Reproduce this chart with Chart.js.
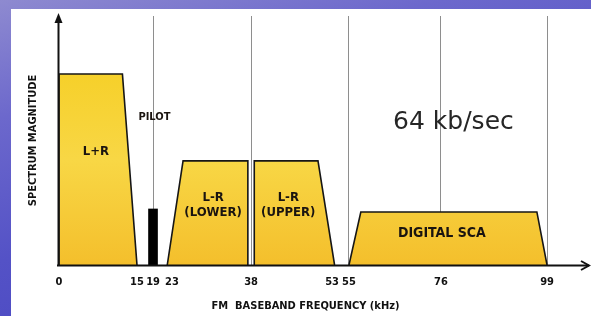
<!DOCTYPE html>
<html><head><meta charset="utf-8">
<script src="https://cdn.jsdelivr.net/npm/chart.js@4.4.1/dist/chart.umd.min.js"></script>
<style>
html,body{margin:0;padding:0;width:591px;height:316px;overflow:hidden;}
body{position:relative;background:linear-gradient(165deg,#8e8ad0 0%,#6c68cc 25%,#5452c6 55%,#4442c0 100%);}
#panel{position:absolute;left:11px;top:9px;right:0;bottom:0;background:#fff;}
#wrap{position:absolute;left:0;top:0;width:591px;height:316px;}
</style></head><body>
<div id="panel"></div>
<div id="wrap"><canvas id="c" width="591" height="316"></canvas></div>
<script>
// ---- data (kHz on x, relative spectrum magnitude on y) ----
const tickValues = [0, 15, 19, 23, 38, 53, 55, 76, 99];
const gridValues = [19, 38, 55, 76, 99];
const bandNames  = ['L+R', 'L-R (LOWER)', 'L-R (UPPER)', 'DIGITAL SCA'];
const lrX    = [0, 0, 12.2, 15];
const lrY    = [0, 76.7, 76.7, 0];
const lowerX = [22, 25.1, 37.4, 37.4];
const lowerY = [0, 41.8, 41.8, 0];
const upperX = [38.6, 38.6, 50.4, 53.3];
const upperY = [0, 41.8, 41.8, 0];
const scaX   = [55, 57.7, 96.8, 99];
const scaY   = [0, 21.3, 21.3, 0];
const pilotX = [19];
const pilotY = [22.5];

// axis of the original diagram is not drawn to scale: piecewise axis
const axisStops = [0, 15, 19, 23, 38, 53, 55, 76, 99, 100];
const axisFractions = [0, 0.1582, 0.1907, 0.2292, 0.3895, 0.5538, 0.5882, 0.7748, 0.9899, 1];

function interp(v, xs, ys) {
  if (v <= xs[0]) return ys[0] + (v - xs[0]) * (ys[1] - ys[0]) / (xs[1] - xs[0]);
  for (let i = 1; i < xs.length; i++) {
    if (v <= xs[i]) return ys[i-1] + (v - xs[i-1]) * (ys[i] - ys[i-1]) / (xs[i] - xs[i-1]);
  }
  const n = xs.length - 1;
  return ys[n] + (v - xs[n]) * (ys[n] - ys[n-1]) / (xs[n] - xs[n-1]);
}

class WarpScale extends Chart.LinearScale {
  getPixelForValue(value) {
    if (value === null || value === undefined) return NaN;
    const w = this.options.warp;
    return this.getPixelForDecimal(interp(value, w.stops, w.fractions));
  }
  getValueForPixel(pixel) {
    const w = this.options.warp;
    return interp(this.getDecimalForPixel(pixel), w.fractions, w.stops);
  }
}
WarpScale.id = 'warp';
WarpScale.defaults = Chart.LinearScale.defaults;
Chart.register(WarpScale);

const pts = (xs, ys) => xs.map((x, i) => ({x: x, y: ys[i]}));
const FONT = "'DejaVu Sans Condensed', 'DejaVu Sans', sans-serif";

function yellow(ctx) {
  const ca = ctx.chart.chartArea;
  if (!ca) return '#f7cf30';
  const g = ctx.chart.ctx.createLinearGradient(0, ca.top + 58, 0, ca.bottom);
  g.addColorStop(0, '#f6d02a');
  g.addColorStop(0.45, '#f8d745');
  g.addColorStop(1, '#f4bf2c');
  return g;
}

function band(label, xs, ys) {
  return {
    type: 'line', label: label, data: pts(xs, ys),
    fill: 'origin', backgroundColor: yellow,
    borderColor: '#161616', borderWidth: 1.6, borderJoinStyle: 'miter',
    pointRadius: 0, tension: 0
  };
}

const deco = {
  id: 'deco',
  afterDatasetsDraw(chart) {
    const c = chart.ctx, ca = chart.chartArea;
    const xs = chart.scales.x, ys = chart.scales.y;
    c.save();
    c.strokeStyle = '#111'; c.fillStyle = '#111'; c.lineWidth = 2;
    // x axis with arrow
    const ay = ca.bottom + 0.5;
    const xEnd = chart.width - 2;
    c.beginPath(); c.moveTo(ca.left - 2, ay); c.lineTo(xEnd, ay); c.stroke();
    c.beginPath(); c.moveTo(xEnd - 8, ay - 4.5); c.lineTo(xEnd, ay); c.lineTo(xEnd - 8, ay + 4.5); c.stroke();
    // y axis with arrow
    const ax = ca.left - 0.5;
    const yEnd = ca.top - 3;
    c.beginPath(); c.moveTo(ax, ca.bottom); c.lineTo(ax, yEnd + 6); c.stroke();
    c.beginPath(); c.moveTo(ax, yEnd); c.lineTo(ax - 4, yEnd + 10); c.lineTo(ax + 4, yEnd + 10); c.closePath(); c.fill();

    const txt = (s, xv, yv, font, align, base) => {
      c.font = font; c.textAlign = align || 'center'; c.textBaseline = base || 'middle';
      c.fillText(s, xs.getPixelForValue(xv), ys.getPixelForValue(yv));
    };
    c.fillStyle = '#1a1410';
    const b13 = "bold 13px " + FONT;
    txt('L+R', 7.1, 45.4, b13);
    txt('L-R', 30.8, 26.9, b13);
    txt('(LOWER)', 30.8, 20.9, b13);
    txt('L-R', 44.9, 26.9, b13);
    txt('(UPPER)', 44.9, 20.9, b13);
    txt('DIGITAL SCA', 76.2, 12.9, "bold 14px " + FONT);
    txt('PILOT', 19.3, 59.4, "bold 11px " + FONT);
    c.fillStyle = '#262626';
    txt('64 kb/sec', 78.7, 54.6, "25px 'DejaVu Sans', sans-serif", 'center', 'alphabetic');
    c.restore();
  }
};

new Chart(document.getElementById('c'), {
  type: 'line',
  data: {
    datasets: [
      band(bandNames[0], lrX, lrY),
      band(bandNames[1], lowerX, lowerY),
      band(bandNames[2], upperX, upperY),
      band(bandNames[3], scaX, scaY),
      { type: 'bar', label: 'PILOT', data: pts(pilotX, pilotY),
        backgroundColor: '#000', barThickness: 9, borderWidth: 0 }
    ]
  },
  options: {
    responsive: false, animation: false,
    layout: { padding: { top: 16, right: 39, left: 0, bottom: 0 } },
    plugins: { legend: { display: false }, tooltip: { enabled: false } },
    scales: {
      x: {
        type: 'warp', min: 0, max: 100, offset: false,
        warp: { stops: axisStops, fractions: axisFractions },
        afterBuildTicks(s) { s.ticks = tickValues.map(v => ({ value: v })); },
        afterFit(s) { s.height = 51; },
        border: { display: false },
        grid: {
          offset: false, drawTicks: false, lineWidth: 1,
          color: (ctx) => (ctx.tick && gridValues.includes(ctx.tick.value)) ? '#8e8e8e' : 'rgba(0,0,0,0)'
        },
        ticks: {
          autoSkip: false, maxRotation: 0, padding: 11, color: '#111',
          font: { family: FONT, size: 11, weight: 'bold' },
          callback: (v) => String(v)
        },
        title: {
          display: true, text: 'FM  BASEBAND FREQUENCY (kHz)', color: '#111',
          font: { family: FONT, size: 11, weight: 'bold' },
          padding: { top: 0, bottom: 3.4 }
        }
      },
      y: {
        type: 'linear', min: 0, max: 100,
        afterFit(s) { s.width = 59; },
        border: { display: false },
        grid: { display: false },
        ticks: { display: false },
        title: {
          display: true, text: 'SPECTRUM MAGNITUDE', color: '#111',
          font: { family: FONT, size: 11, weight: 'bold' },
          padding: { top: 26.4, bottom: 0 }
        }
      }
    }
  },
  plugins: [deco]
});
</script>
</body></html>
